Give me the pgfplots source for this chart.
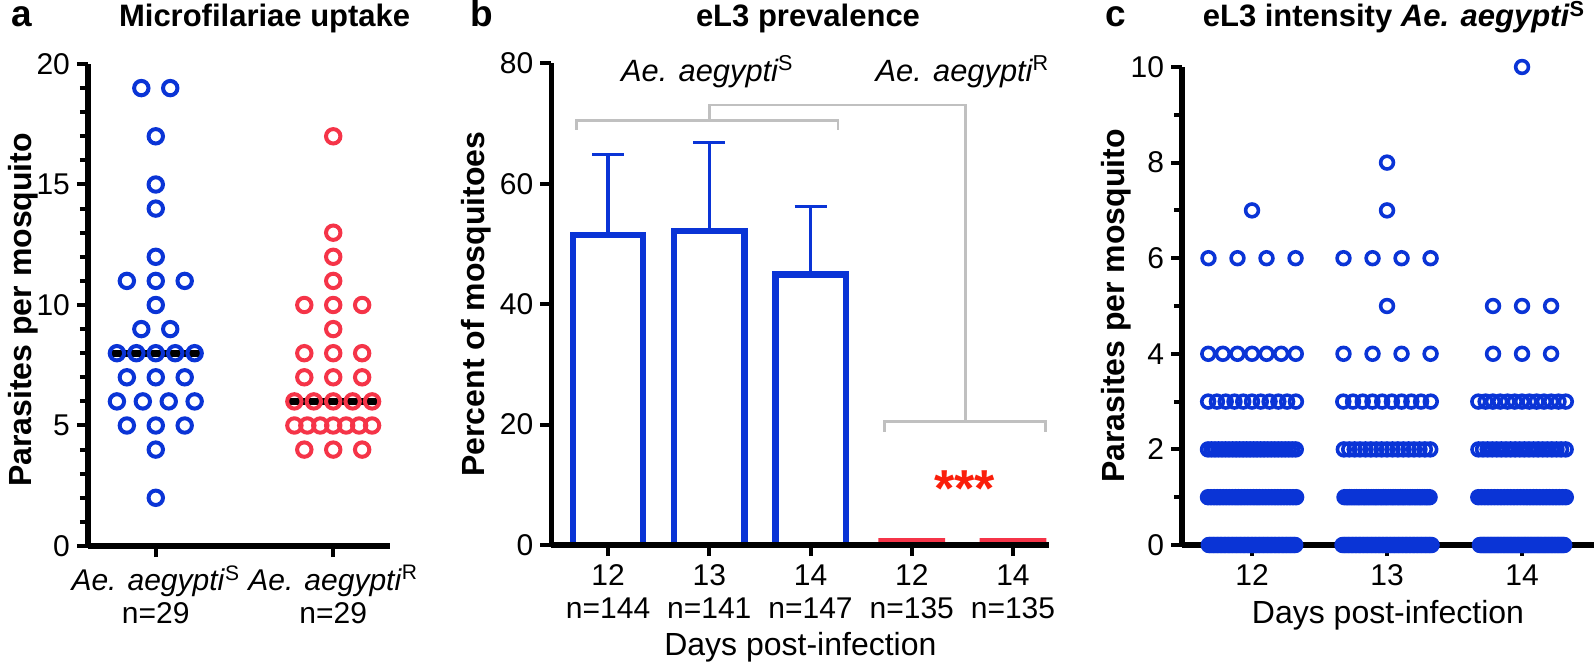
\documentclass[border=0pt]{standalone}
\usepackage{pgfplots}
\pgfplotsset{compat=1.18}
\usepackage{fontspec}
\setmainfont{Liberation Sans}
\definecolor{blueS}{RGB}{10,52,214}
\definecolor{redR}{RGB}{245,52,72}
\definecolor{star}{RGB}{250,30,10}
\definecolor{brk}{RGB}{192,192,192}
\newcommand{\fs}{\fontsize{15}{16.5}\selectfont}
\newcommand{\fl}{\fontsize{16}{17}\selectfont}
\pgfplotsset{
  panel/.style={
    scale only axis,
    axis x line*=bottom, axis y line*=left,
    axis line style={-, line width=2.9pt, black},
    tick style={line width=2pt, black},
    tick align=outside,
    major tick length=5.5pt, minor tick length=4pt,
    tick label style={font=\fs},
    xticklabel style={align=center, inner sep=1pt, yshift=-3pt},
    xlabel style={font=\fl, inner sep=1pt},
    ylabel style={font=\bfseries\fl},
    /pgf/number format/assume math mode=true,
    clip=false,
    anchor=south west,
  },
  dots/.style={only marks, mark=o, mark size=3.2pt, mark options={draw=blueS, line width=1.8pt}},
}
\begin{document}
\begin{tikzpicture}
\useasboundingbox (0,0) rectangle (797pt,332pt);
% titles and panel letters
\node[font=\bfseries\fontsize{18.5}{19}\selectfont, anchor=base] at (11pt,318.5pt) {a};
\node[font=\bfseries\fontsize{15.5}{16}\selectfont, anchor=base west] at (56pt,318.5pt) {Microfilariae uptake};
\node[font=\bfseries\fontsize{18.5}{19}\selectfont, anchor=base] at (241pt,318.5pt) {b};
\node[font=\bfseries\fontsize{15.5}{16}\selectfont, anchor=base] at (404pt,318.5pt) {eL3 prevalence};
\node[font=\bfseries\fontsize{18.5}{19}\selectfont, anchor=base] at (558pt,318.5pt) {c};
\node[font=\bfseries\fontsize{15.5}{16}\selectfont, anchor=base] at (697pt,318.5pt) {eL3 intensity \textit{Ae. aegypti}\textsuperscript{S}};

% ---------------- panel a
\begin{axis}[panel, at={(44pt,59pt)}, width=151pt, height=241pt,
  xmin=0.618, xmax=2.32, ymin=0, ymax=20,
  ytick={0,5,10,15,20}, minor y tick num=4,
  xtick={1,2},
  xticklabels={{\textit{Ae. aegypti}\textsuperscript{S}\\n=29},{\textit{Ae. aegypti}\textsuperscript{R}\\n=29}},
  ylabel={Parasites per mosquito},
  ylabel style={at={(axis description cs:-0.215,0.49)}, anchor=center},
]
\addplot[only marks, mark=o, mark size=3.6pt, mark options={draw=blueS, line width=2pt}] coordinates {
(0.9185,19)(1.0815,19)(1,17)(1,15)(1,14)(1,12)(0.837,11)(1,11)(1.163,11)(1,10)(0.9185,9)(1.0815,9)
(0.781,8)(0.8905,8)(1,8)(1.1095,8)(1.219,8)(0.837,7)(1,7)(1.163,7)(0.781,6)(0.927,6)(1.073,6)(1.219,6)
(0.837,5)(1,5)(1.163,5)(1,4)(1,2)};
\addplot[only marks, mark=o, mark size=3.6pt, mark options={draw=redR, line width=2pt}] coordinates {
(2,17)(2,13)(2,12)(2,11)(1.837,10)(2,10)(2.163,10)(2,9)(1.837,8)(2,8)(2.163,8)(1.837,7)(2,7)(2.163,7)
(1.781,6)(1.8905,6)(2,6)(2.1095,6)(2.219,6)(1.781,5)(1.854,5)(1.927,5)(2,5)(2.073,5)(2.146,5)(2.219,5)
(1.837,4)(2,4)(2.163,4)};
\addplot[black, line width=3.6pt] coordinates {(0.745,8)(1.255,8)};
\addplot[black, line width=3.6pt] coordinates {(1.745,6)(2.255,6)};
\end{axis}

% ---------------- panel b
\begin{axis}[panel, axis on top=true, at={(275.7pt,59.5pt)}, width=249pt, height=240.85pt,
  xmin=-0.56, xmax=4.36, ymin=0, ymax=80, ytick={0,20,40,60,80},
  xtick={0,1,2,3,4},
  xticklabels={{12\\n=144},{13\\n=141},{14\\n=147},{12\\n=135},{14\\n=135}},
  xlabel={Days post-infection},
  xlabel style={at={(axis description cs:0.5,-0.212)}, anchor=center},
  ylabel={Percent of mosquitoes},
  ylabel style={at={(axis description cs:-0.151,0.5)}, anchor=center},
]
\addplot[brk, line width=1.3pt] coordinates {(-0.31,69)(-0.31,70.5)(2.27,70.5)(2.27,69)};
\addplot[brk, line width=1.3pt] coordinates {(1,70.5)(1,73.1)(3.53,73.1)(3.53,20.5)};
\addplot[brk, line width=1.3pt] coordinates {(2.73,18.8)(2.73,20.5)(4.32,20.5)(4.32,18.8)};
\addplot[ybar, bar width=0.695, bar shift=0pt, draw=blueS, fill=white, line width=3.2pt,
  error bars/.cd, y dir=plus, y explicit,
  error bar style={line width=1.6pt, blueS},
  error mark options={rotate=90, mark size=8pt, line width=1.6pt, blueS}]
  coordinates {(0,51.5) +- (0,13.3) (1,52.1) +- (0,14.8) (2,44.9) +- (0,11.3)};
\addplot[ybar, bar width=0.66, bar shift=0pt, draw=redR, fill=redR, line width=3.4pt, yshift=1.8pt]
  coordinates {(3,0)(4,0)};
\node[font=\fontsize{15.4}{16}\selectfont\itshape] at (axis cs:0.98,78.6) {Ae. aegypti\textsuperscript{\normalfont S}};
\node[font=\fontsize{15.4}{16}\selectfont\itshape] at (axis cs:3.5,78.6) {Ae. aegypti\textsuperscript{\normalfont R}};
\node[text=star, font=\bfseries\fontsize{26}{26}\selectfont, anchor=base] at (axis cs:3.52,6.4) {***};
\end{axis}

% ---------------- panel c
\begin{axis}[panel, at={(591pt,59.5pt)}, width=206pt, height=239pt,
  xmin=0.4815, xmax=3.533, ymin=0, ymax=10, ytick={0,2,4,6,8,10}, minor y tick num=1,
  xtick={1,2,3}, xticklabels={12,13,14},
  xlabel={Days post-infection},
  xlabel style={at={(axis description cs:0.5,-0.147)}, anchor=center},
  ylabel={Parasites per mosquito},
  ylabel style={at={(axis description cs:-0.16,0.5)}, anchor=center},
]
% day 12
\addplot[dots] coordinates {
(0.68,0)(0.69,0)(0.70,0)(0.71,0)(0.72,0)(0.73,0)(0.74,0)(0.75,0)(0.76,0)(0.77,0)(0.78,0)(0.79,0)(0.80,0)(0.81,0)(0.82,0)(0.83,0)(0.84,0)(0.85,0)(0.86,0)(0.87,0)(0.88,0)(0.89,0)(0.90,0)(0.91,0)(0.92,0)(0.93,0)(0.94,0)(0.95,0)(0.96,0)(0.97,0)(0.98,0)(0.99,0)(1.00,0)(1.01,0)(1.02,0)(1.03,0)(1.04,0)(1.05,0)(1.06,0)(1.07,0)(1.08,0)(1.09,0)(1.10,0)(1.11,0)(1.12,0)(1.13,0)(1.14,0)(1.15,0)(1.16,0)(1.17,0)(1.18,0)(1.19,0)(1.20,0)(1.21,0)(1.22,0)(1.23,0)(1.24,0)(1.25,0)(1.26,0)(1.27,0)(1.28,0)(1.29,0)(1.30,0)(1.31,0)(1.32,0)
(0.674,1)(0.6965,1)(0.719,1)(0.7415,1)(0.764,1)(0.7865,1)(0.809,1)(0.8315,1)(0.854,1)(0.8765,1)(0.899,1)(0.9215,1)(0.944,1)(0.9665,1)(0.989,1)(1.0115,1)(1.034,1)(1.0565,1)(1.079,1)(1.1015,1)(1.124,1)(1.1465,1)(1.169,1)(1.1915,1)(1.214,1)(1.2365,1)(1.259,1)(1.2815,1)(1.304,1)(1.3265,1)
(0.674,2)(0.700,2)(0.726,2)(0.752,2)(0.778,2)(0.804,2)(0.830,2)(0.856,2)(0.882,2)(0.908,2)(0.934,2)(0.960,2)(0.986,2)(1.012,2)(1.038,2)(1.064,2)(1.090,2)(1.116,2)(1.142,2)(1.168,2)(1.194,2)(1.220,2)(1.246,2)(1.272,2)(1.298,2)(1.324,2)
(0.675,3)(0.74,3)(0.805,3)(0.87,3)(0.935,3)(1.0,3)(1.065,3)(1.13,3)(1.195,3)(1.26,3)(1.325,3)
(0.676,4)(0.784,4)(0.892,4)(1.0,4)(1.108,4)(1.216,4)(1.324,4)
(0.6775,6)(0.8925,6)(1.1075,6)(1.3225,6)
(1,7)};
% day 13
\addplot[dots] coordinates {
(1.67,0)(1.68,0)(1.69,0)(1.70,0)(1.71,0)(1.72,0)(1.73,0)(1.74,0)(1.75,0)(1.76,0)(1.77,0)(1.78,0)(1.79,0)(1.80,0)(1.81,0)(1.82,0)(1.83,0)(1.84,0)(1.85,0)(1.86,0)(1.87,0)(1.88,0)(1.89,0)(1.90,0)(1.91,0)(1.92,0)(1.93,0)(1.94,0)(1.95,0)(1.96,0)(1.97,0)(1.98,0)(1.99,0)(2.00,0)(2.01,0)(2.02,0)(2.03,0)(2.04,0)(2.05,0)(2.06,0)(2.07,0)(2.08,0)(2.09,0)(2.10,0)(2.11,0)(2.12,0)(2.13,0)(2.14,0)(2.15,0)(2.16,0)(2.17,0)(2.18,0)(2.19,0)(2.20,0)(2.21,0)(2.22,0)(2.23,0)(2.24,0)(2.25,0)(2.26,0)(2.27,0)(2.28,0)(2.29,0)(2.30,0)(2.31,0)(2.32,0)(2.33,0)
(1.685,1)(1.703,1)(1.721,1)(1.739,1)(1.757,1)(1.775,1)(1.793,1)(1.811,1)(1.829,1)(1.847,1)(1.865,1)(1.883,1)(1.901,1)(1.919,1)(1.937,1)(1.955,1)(1.973,1)(1.991,1)(2.009,1)(2.027,1)(2.045,1)(2.063,1)(2.081,1)(2.099,1)(2.117,1)(2.135,1)(2.153,1)(2.171,1)(2.189,1)(2.207,1)(2.225,1)(2.243,1)(2.261,1)(2.279,1)(2.297,1)(2.315,1)
(1.68,2)(1.72,2)(1.76,2)(1.80,2)(1.84,2)(1.88,2)(1.92,2)(1.96,2)(2.00,2)(2.04,2)(2.08,2)(2.12,2)(2.16,2)(2.20,2)(2.24,2)(2.28,2)(2.32,2)
(1.676,3)(1.748,3)(1.82,3)(1.892,3)(1.964,3)(2.036,3)(2.108,3)(2.18,3)(2.252,3)(2.324,3)
(1.6775,4)(1.8925,4)(2.1075,4)(2.3225,4)
(2,5)
(1.6775,6)(1.8925,6)(2.1075,6)(2.3225,6)
(2,7)(2,8)};
% day 14
\addplot[dots] coordinates {
(2.688,0)(2.696,0)(2.704,0)(2.712,0)(2.720,0)(2.728,0)(2.736,0)(2.744,0)(2.752,0)(2.760,0)(2.768,0)(2.776,0)(2.784,0)(2.792,0)(2.800,0)(2.808,0)(2.816,0)(2.824,0)(2.832,0)(2.840,0)(2.848,0)(2.856,0)(2.864,0)(2.872,0)(2.880,0)(2.888,0)(2.896,0)(2.904,0)(2.912,0)(2.920,0)(2.928,0)(2.936,0)(2.944,0)(2.952,0)(2.960,0)(2.968,0)(2.976,0)(2.984,0)(2.992,0)(3.000,0)(3.008,0)(3.016,0)(3.024,0)(3.032,0)(3.040,0)(3.048,0)(3.056,0)(3.064,0)(3.072,0)(3.080,0)(3.088,0)(3.096,0)(3.104,0)(3.112,0)(3.120,0)(3.128,0)(3.136,0)(3.144,0)(3.152,0)(3.160,0)(3.168,0)(3.176,0)(3.184,0)(3.192,0)(3.200,0)(3.208,0)(3.216,0)(3.224,0)(3.232,0)(3.240,0)(3.248,0)(3.256,0)(3.264,0)(3.272,0)(3.280,0)(3.288,0)(3.296,0)(3.304,0)(3.312,0)
(2.676,1)(2.700,1)(2.724,1)(2.748,1)(2.772,1)(2.796,1)(2.820,1)(2.844,1)(2.868,1)(2.892,1)(2.916,1)(2.940,1)(2.964,1)(2.988,1)(3.012,1)(3.036,1)(3.060,1)(3.084,1)(3.108,1)(3.132,1)(3.156,1)(3.180,1)(3.204,1)(3.228,1)(3.252,1)(3.276,1)(3.300,1)(3.324,1)
(2.677,2)(2.711,2)(2.745,2)(2.779,2)(2.813,2)(2.847,2)(2.881,2)(2.915,2)(2.949,2)(2.983,2)(3.017,2)(3.051,2)(3.085,2)(3.119,2)(3.153,2)(3.187,2)(3.221,2)(3.255,2)(3.289,2)(3.323,2)
(2.676,3)(2.730,3)(2.784,3)(2.838,3)(2.892,3)(2.946,3)(3.000,3)(3.054,3)(3.108,3)(3.162,3)(3.216,3)(3.270,3)(3.324,3)
(2.785,4)(3,4)(3.215,4)
(2.785,5)(3,5)(3.215,5)
(3,10)};
\end{axis}
\end{tikzpicture}
\end{document}
